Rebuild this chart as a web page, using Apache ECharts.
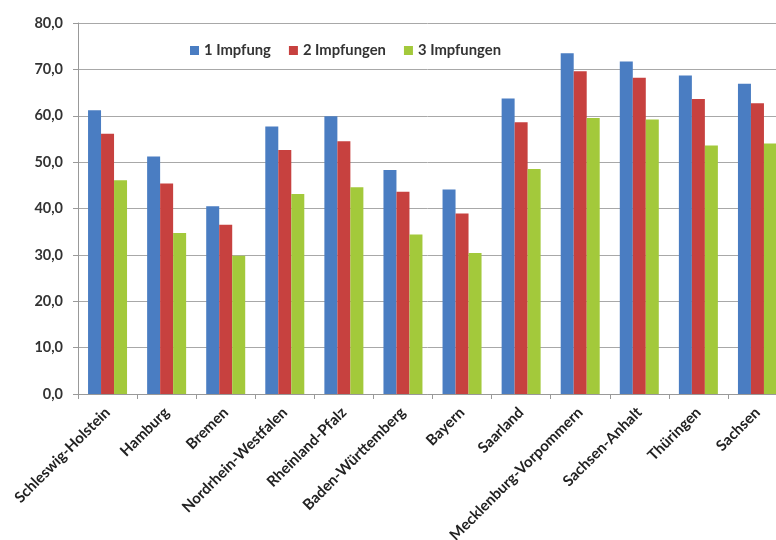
<!DOCTYPE html>
<html>
<head>
<meta charset="utf-8">
<script src="https://cdn.jsdelivr.net/npm/echarts@6/dist/echarts.min.js"></script>
<style>html,body{margin:0;padding:0;background:#fff;}#c{width:776px;height:540px;}</style>
</head>
<body>
<div id="c"></div>
<script>
const categories = ["Schleswig-Holstein","Hamburg","Bremen","Nordrhein-Westfalen","Rheinland-Pfalz","Baden-Württemberg","Bayern","Saarland","Mecklenburg-Vorpommern","Sachsen-Anhalt","Thüringen","Sachsen"];
const seriesNames = ["1 Impfung","2 Impfungen","3 Impfungen"];
const impfung1 = [61.2, 51.2, 40.5, 57.7, 59.9, 48.3, 44.1, 63.7, 73.5, 71.7, 68.7, 66.9];
const impfung2 = [56.1, 45.4, 36.5, 52.6, 54.5, 43.6, 38.9, 58.6, 69.6, 68.2, 63.6, 62.7];
const impfung3 = [46.1, 34.7, 29.8, 43.1, 44.6, 34.4, 30.4, 48.5, 59.5, 59.2, 53.6, 54.0];
const colors = ["#4A7DC2", "#C7413F", "#A3C93B"];

const font = "Lato, 'Open Sans', sans-serif";
const chart = echarts.init(document.getElementById('c'), null, {renderer: 'canvas'});
const data = [impfung1, impfung2, impfung3];
chart.setOption({
  animation: false,
  color: colors,
  textStyle: {fontFamily: font},
  legend: {
    top: 38, left: 185,
    icon: 'rect', itemWidth: 9, itemHeight: 9, itemGap: 18,
    textStyle: {fontFamily: font, fontWeight: 'bold', fontSize: 14.8, color: '#333'},
    data: seriesNames
  },
  grid: {left: 78, top: 23, width: 709, height: 371, containLabel: false, outerBoundsMode: 'none'},
  xAxis: {
    type: 'category',
    data: categories,
    axisLine: {lineStyle: {color: '#999', width: 1}},
    axisTick: {show: true, length: 5, lineStyle: {color: '#999'}},
    axisLabel: {rotate: 45, interval: 0, margin: 16, fontFamily: font, fontWeight: 'bold', fontSize: 15, color: '#222'}
  },
  yAxis: {
    type: 'value', min: 0, max: 80, interval: 10,
    axisLine: {show: true, lineStyle: {color: '#999', width: 1}},
    axisTick: {show: true, length: 5, lineStyle: {color: '#999'}},
    splitLine: {lineStyle: {color: '#a8a8a8', width: 1}},
    axisLabel: {margin: 15, fontFamily: font, fontWeight: 'bold', fontSize: 14.5, color: '#333',
      formatter: v => v.toFixed(1).replace('.', ',')}
  },
  series: seriesNames.map((n, i) => ({
    name: n, type: 'bar', data: data[i], barWidth: 13, barGap: '0%'
  }))
});
</script>
</body>
</html>
